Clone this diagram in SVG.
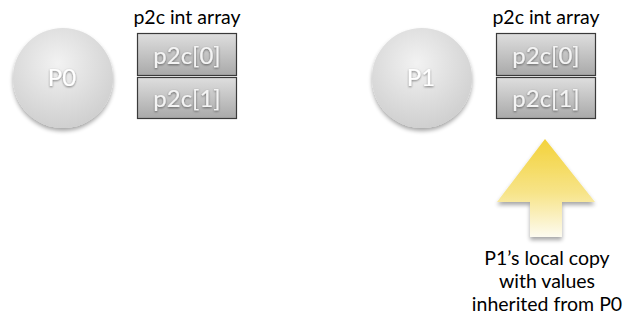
<svg xmlns="http://www.w3.org/2000/svg" width="637" height="320" viewBox="0 0 637 320">
<defs>
<radialGradient id="gc" cx="0.45" cy="0.35" r="0.7">
<stop offset="0" stop-color="#f2f2f2"/>
<stop offset="1" stop-color="#cdcdcd"/>
</radialGradient>
<linearGradient id="gb" x1="0" y1="0" x2="0" y2="1">
<stop offset="0" stop-color="#dedede"/>
<stop offset="1" stop-color="#a9a9a9"/>
</linearGradient>
<linearGradient id="ga" x1="0" y1="0" x2="0" y2="1">
<stop offset="0" stop-color="#f3d23a"/>
<stop offset="0.55" stop-color="#f7e489"/>
<stop offset="1" stop-color="#fdfbf0"/>
</linearGradient>
<filter id="sh" x="-20%" y="-20%" width="140%" height="150%">
<feGaussianBlur in="SourceAlpha" stdDeviation="2"/>
<feOffset dx="0" dy="3"/>
<feComponentTransfer><feFuncA type="linear" slope="0.35"/></feComponentTransfer>
<feMerge><feMergeNode/><feMergeNode in="SourceGraphic"/></feMerge>
</filter>
<filter id="ts" x="-10%" y="-10%" width="120%" height="130%">
<feGaussianBlur in="SourceAlpha" stdDeviation="0.8"/>
<feOffset dx="0" dy="1"/>
<feComponentTransfer><feFuncA type="linear" slope="0.5"/></feComponentTransfer>
<feMerge><feMergeNode/><feMergeNode in="SourceGraphic"/></feMerge>
</filter>
</defs>
<style>
.circ{fill:url(#gc);filter:url(#sh)}
.box{fill:url(#gb);stroke:#3a3a3a;stroke-width:1.2}
.pt{font-family:"Lato","Open Sans",sans-serif;font-size:24px;fill:#ffffff;text-anchor:middle;filter:url(#ts)}
.bt{font-family:"Lato","Open Sans",sans-serif;font-size:24px;fill:#f4f4f4;text-anchor:middle;filter:url(#ts)}
.lbl{font-family:"Lato","Open Sans",sans-serif;font-size:19.5px;fill:#000000;text-anchor:middle}
</style>
<g id="p0">
<circle class="circ" cx="63" cy="78" r="50"/>
<text class="pt" x="62" y="86">P0</text>
</g>
<g id="array0">
<text class="lbl" x="187" y="24">p2c int array</text>
<rect class="box" x="137.5" y="33.5" width="99" height="42"/>
<text class="bt" x="187" y="64">p2c[0]</text>
<rect class="box" x="137.5" y="77.5" width="99" height="41"/>
<text class="bt" x="187" y="107">p2c[1]</text>
</g>
<g id="p1">
<circle class="circ" cx="422" cy="78" r="50"/>
<text class="pt" x="421" y="86">P1</text>
</g>
<g id="array1">
<text class="lbl" x="546" y="24">p2c int array</text>
<rect class="box" x="496.5" y="33.5" width="99" height="42"/>
<text class="bt" x="546" y="64">p2c[0]</text>
<rect class="box" x="496.5" y="77.5" width="99" height="41"/>
<text class="bt" x="546" y="107">p2c[1]</text>
</g>
<g id="connectors">
<polygon points="545,139 595,202 562,202 562,237 530,237 530,202 497,202" fill="url(#ga)" filter="url(#sh)"/>
</g>
<g id="note">
<text class="lbl" x="547" y="265">P1’s local copy</text>
<text class="lbl" x="547" y="288">with values</text>
<text class="lbl" x="547" y="311">inherited from P0</text>
</g>
</svg>
